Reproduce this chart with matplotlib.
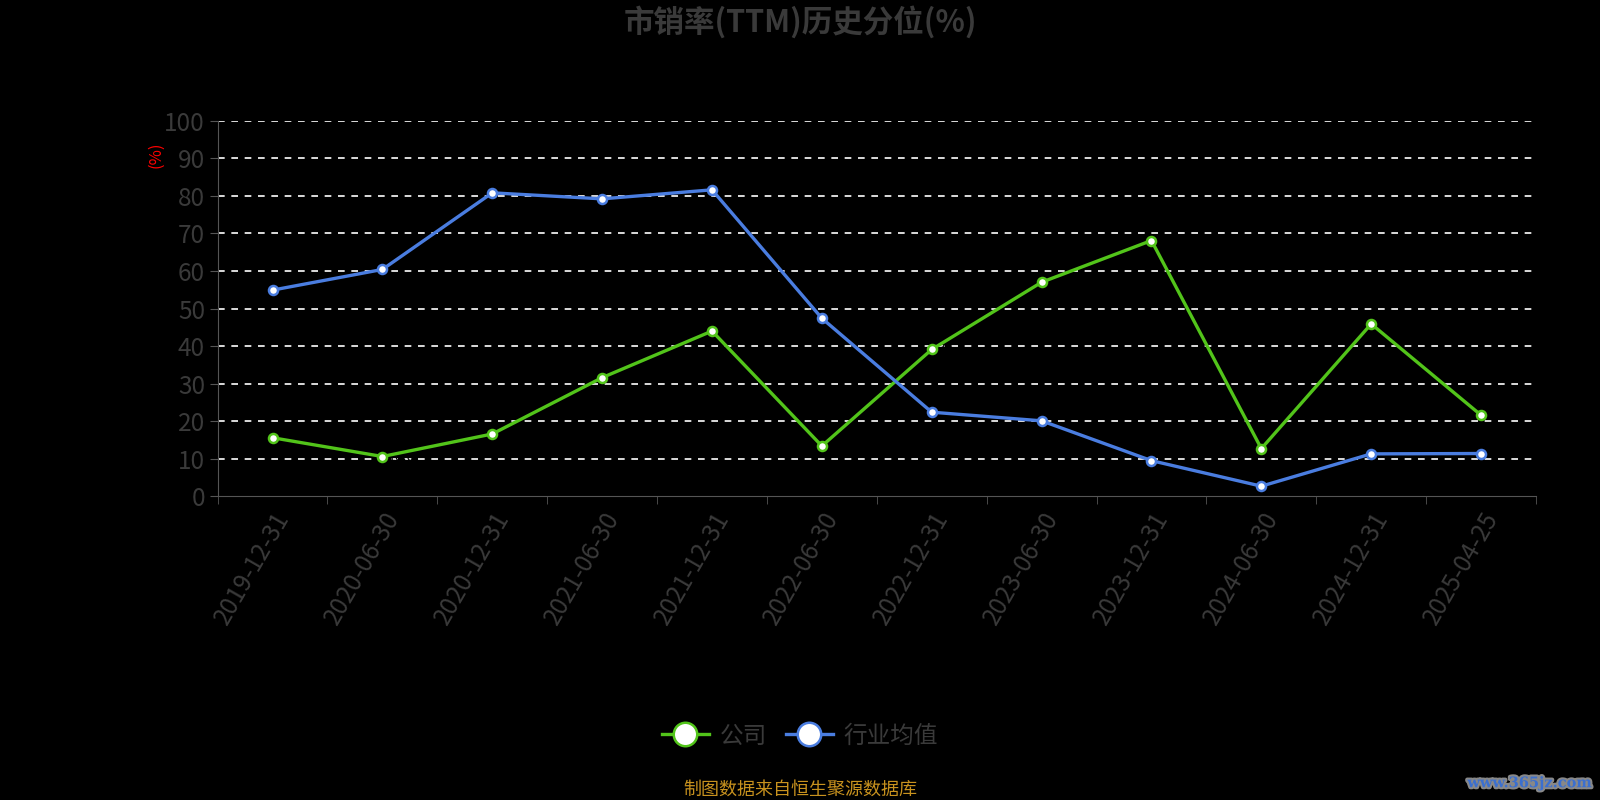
import matplotlib.pyplot as plt
import matplotlib.patheffects as pe
import numpy as np

plt.rcParams['font.family'] = ['Noto Sans CJK SC', 'DejaVu Sans']

dates = ['2019-12-31', '2020-06-30', '2020-12-31', '2021-06-30', '2021-12-31', '2022-06-30',
         '2022-12-31', '2023-06-30', '2023-12-31', '2024-06-30', '2024-12-31', '2025-04-25']
company = [15.6, 10.6, 16.6, 31.6, 44.0, 13.4, 39.1, 57.0, 68.1, 12.7, 45.9, 21.6]
industry = [54.9, 60.4, 80.8, 79.2, 81.6, 47.4, 22.4, 20.1, 9.5, 2.7, 11.3, 11.4]

green = '#52c41a'
blue = '#4a7de0'
gray = '#3a3a3a'

fig = plt.figure(figsize=(16, 8), dpi=100, facecolor='black')
ax = fig.add_axes([0.136, 0.3796, 0.824, 0.4695], facecolor='black')

x = np.arange(len(dates))
ax.plot(x, company, color=green, lw=2.4, marker='o', ms=6.5, mfc='white', mec=green, mew=1.8,
        zorder=4, label='公司')
ax.plot(x, industry, color=blue, lw=2.4, marker='o', ms=6.5, mfc='white', mec=blue, mew=1.8,
        zorder=4, label='行业均值')
# labels of the company series are drawn in black, as in the source
for xi, v in zip(x, company):
    ax.annotate(f'{v:.1f}', (xi, v), xytext=(4, 0), textcoords='offset points',
                color='black', fontsize=10, va='center', zorder=3)

ax.set_xlim(-0.5, len(dates) - 0.5)
ax.set_ylim(0, 100)
ax.set_yticks(range(0, 101, 10))
ax.yaxis.grid(True, color='white', ls=(0, (4, 4)), lw=1.2)
ax.get_ygridlines()[0].set_visible(False)
ax.set_axisbelow(True)

ax.set_xticks(x)
ax.set_xticklabels(dates, rotation=60, ha='right', rotation_mode='anchor')
ax.set_xticks(np.arange(-0.5, len(dates)), minor=True)
ax.tick_params(axis='x', which='major', length=0, pad=8, labelsize=17.5, labelcolor=gray)
ax.tick_params(axis='x', which='minor', length=6, color='#555555')
ax.tick_params(axis='y', length=6, color='#555555', labelsize=17.5, labelcolor=gray, pad=3)

for s in ['top', 'right']:
    ax.spines[s].set_visible(False)
ax.spines['left'].set_color('#555555')
ax.spines['bottom'].set_color('#555555')

fig.text(0.0975, 0.806, '(%)', color='red', fontsize=12, rotation=90, ha='center', va='center')
fig.text(0.5, 0.972, '市销率(TTM)历史分位(%)', color=gray, fontsize=22, fontweight='bold',
         ha='center', va='center')

leg = fig.legend(loc='center', bbox_to_anchor=(0.5, 0.08), ncol=2, frameon=False, fontsize=17,
                 labelcolor=gray, markerscale=2.6, handlelength=2.0, columnspacing=0.8,
                 handletextpad=0.45)

fig.text(0.5, 0.013, '制图数据来自恒生聚源数据库', color='#c8921e', fontsize=13, ha='center', va='center')
fig.text(0.995, 0.021, 'www.365jz.com', color='#3a6fd0', fontsize=10.5, fontweight='bold',
         family='DejaVu Serif', ha='right', va='center',
         path_effects=[pe.withStroke(linewidth=3, foreground='#888888')])

fig.savefig('out.png', dpi=100, facecolor='black')
